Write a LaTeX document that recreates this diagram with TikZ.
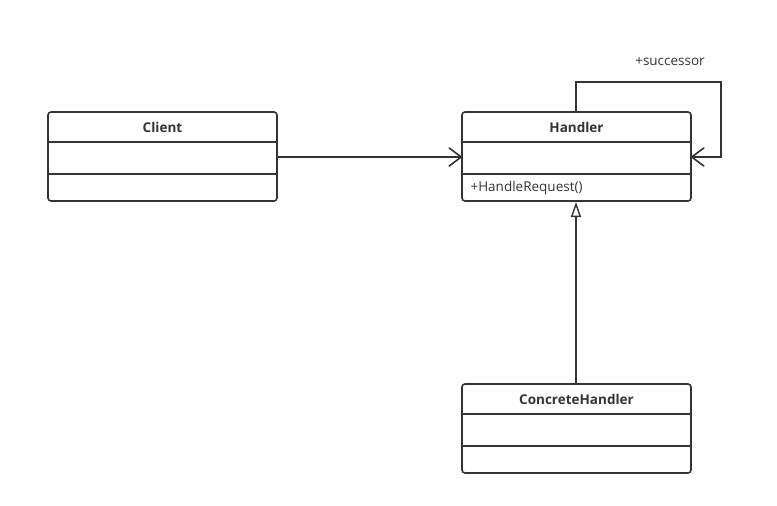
\documentclass[tikz,border=0pt]{standalone}
\usepackage{fontspec}
\setmainfont{Open Sans}
\usetikzlibrary{arrows.meta}
\definecolor{ink}{HTML}{333333}
\tikzset{
  x=1pt,y=-1pt,
  umlbox/.style={draw=ink,line width=1.6pt,rounded corners=3pt},
  divider/.style={draw=ink,line width=1.6pt},
  conn/.style={draw=ink,line width=1.7pt},
  openarrow/.style={-{Straight Barb[length=12pt,width=18pt,line width=1.6pt,round]}},
  genarrow/.style={-{Triangle[open,length=15pt,width=10pt,line width=1.4pt]}},
  cname/.style={font=\fontsize{13.5}{15}\selectfont\bfseries,text=ink},
  member/.style={font=\fontsize{13.5}{15}\selectfont,text=ink,anchor=west},
}
\begin{document}
\begin{tikzpicture}
\useasboundingbox (0,0) rectangle (777,506);
% Client
\draw[umlbox] (48,112) rectangle (277,201);
\coordinate (clientR) at (277,157);
\draw[divider] (48,142) -- (277,142);
\draw[divider] (48,174) -- (277,174);
\node[cname] (clientT) at (162.5,127) {Client};
% Handler
\draw[umlbox] (462,112) rectangle (691,201);
\draw[divider] (462,142) -- (691,142);
\draw[divider] (462,174) -- (691,174);
\node[cname] (handlerT) at (576.5,127) {Handler};
\node[member] (hreq) at (467,188) {+HandleRequest()};
\coordinate (handlerL) at (462,157);
\coordinate (handlerR) at (691,157);
\coordinate (handlerTop) at (576,112);
\coordinate (handlerBot) at (576,202);
% ConcreteHandler
\draw[umlbox] (462,384) rectangle (691,473);
\draw[divider] (462,414) -- (691,414);
\draw[divider] (462,446) -- (691,446);
\node[cname] (chT) at (576.5,399) {ConcreteHandler};
\coordinate (chTop) at (576,384);
% connectors
\draw[conn,openarrow] (clientR) -- (handlerL);
\coordinate (loopA) at (576,82);
\coordinate (loopB) at (721,82);
\coordinate (loopC) at (721,157);
\draw[conn,openarrow] (handlerTop) -- (loopA) -- (loopB) -- (loopC) -- (handlerR);
\node[font=\fontsize{13.5}{15}\selectfont,text=ink] (succ) at (670,62) {+successor};
\draw[conn,genarrow] (chTop) -- (handlerBot);
\end{tikzpicture}
\end{document}
